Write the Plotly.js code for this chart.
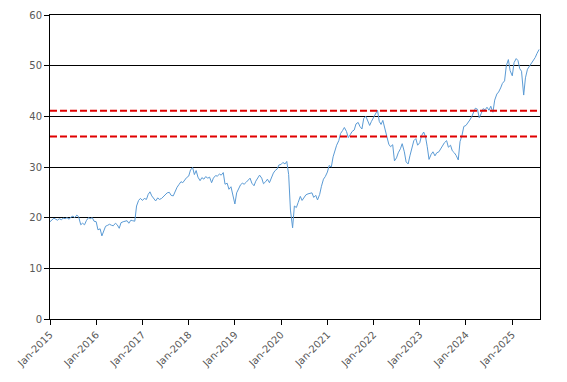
<!DOCTYPE html>
<html>
<head>
<meta charset="utf-8">
<script src="https://cdn.plot.ly/plotly-3.0.1.min.js"></script>
<style>html,body{margin:0;padding:0;background:#fff;}#chart{width:567px;height:382px;}</style>
</head>
<body>
<div id="chart"></div>
<script>
// Semi-monthly readings (1st and 15th of each month)
const years = [2015, 2016, 2017, 2018, 2019, 2020, 2021, 2022, 2023, 2024, 2025];
const v2015 = [19.2, 19.6, 19.9, 19.7, 19.5, 19.8, 19.6, 19.9, 19.8, 20.0, 19.7, 20.1, 20.3, 20.0, 20.5, 20.2, 18.6, 18.9, 18.6, 19.4, 20.0, 19.8, 20.0, 19.3];
const v2016 = [19.2, 17.6, 17.8, 16.4, 17.6, 18.3, 18.5, 18.7, 18.5, 18.4, 18.9, 18.6, 17.9, 19.0, 19.2, 19.3, 19.4, 18.9, 19.5, 19.4, 19.3, 22.3, 23.4, 23.8];
const v2017 = [23.4, 23.8, 23.6, 24.6, 25.1, 24.3, 23.7, 23.3, 23.9, 23.6, 23.8, 24.1, 24.6, 24.9, 25.0, 24.4, 24.3, 25.2, 26.0, 26.5, 27.1, 26.9, 27.5, 27.9];
const v2018 = [28.2, 29.4, 29.9, 28.5, 29.3, 28.0, 27.3, 27.9, 27.6, 28.1, 27.8, 28.0, 26.9, 27.8, 28.3, 28.2, 28.6, 28.4, 28.9, 26.6, 26.8, 25.6, 26.1, 24.2];
const v2019 = [22.7, 24.9, 25.8, 26.5, 26.8, 26.6, 27.0, 27.4, 27.8, 26.8, 26.3, 27.2, 27.9, 28.4, 27.8, 26.7, 27.1, 27.6, 26.9, 27.8, 28.8, 29.3, 29.6, 30.4];
const v2020 = [30.5, 30.9, 30.6, 31.1, 28.5, 21.5, 18.0, 22.3, 22.0, 23.0, 24.2, 23.4, 24.0, 24.5, 24.7, 24.8, 24.9, 24.0, 24.4, 23.5, 24.6, 26.2, 27.6, 28.1];
const v2021 = [29.0, 30.3, 30.0, 32.0, 33.2, 34.3, 35.2, 36.6, 37.2, 37.8, 37.0, 35.8, 36.4, 37.0, 37.3, 38.5, 38.8, 38.0, 37.5, 39.6, 40.0, 39.3, 38.2, 39.0];
const v2022 = [39.8, 40.6, 41.2, 39.0, 38.4, 39.2, 37.6, 36.0, 34.5, 34.0, 34.4, 31.2, 31.8, 32.8, 33.6, 34.6, 33.0, 31.0, 30.6, 32.2, 34.0, 35.2, 35.6, 34.3];
const v2023 = [34.8, 36.2, 36.9, 36.0, 34.0, 31.5, 32.5, 33.0, 32.2, 32.8, 33.0, 33.6, 34.0, 34.8, 35.2, 33.9, 34.3, 33.2, 32.8, 32.3, 31.4, 35.0, 36.3, 38.0];
const v2024 = [38.2, 38.6, 39.3, 39.9, 41.0, 41.6, 41.4, 39.7, 40.6, 41.5, 41.3, 41.8, 41.2, 42.0, 40.8, 43.2, 44.4, 44.8, 45.6, 46.5, 47.0, 50.0, 51.2, 49.0];
const v2025 = [48.0, 50.6, 51.4, 51.0, 49.4, 48.9, 44.2, 47.6, 49.3, 49.8, 50.3, 50.9, 51.6, 52.4, 53.2];
const yearValues = [v2015, v2016, v2017, v2018, v2019, v2020, v2021, v2022, v2023, v2024, v2025];

const thresholds = [41.1, 36.0];
const xRange = ['2015-01-01', '2025-08-08'];
const tickDates = ['2015-01-01','2016-01-01','2017-01-01','2018-01-01','2019-01-01','2020-01-01','2021-01-01','2022-01-01','2023-01-01','2024-01-01','2025-01-01'];
const tickLabels = ['Jan-2015','Jan-2016','Jan-2017','Jan-2018','Jan-2019','Jan-2020','Jan-2021','Jan-2022','Jan-2023','Jan-2024','Jan-2025'];
const yTicks = [0, 10, 20, 30, 40, 50, 60];

const xs = [], ys = [];
years.forEach((yr, k) => {
  yearValues[k].forEach((v, i) => {
    const m = Math.floor(i / 2) + 1;
    const d = (i % 2) ? 15 : 1;
    xs.push(yr + '-' + String(m).padStart(2, '0') + '-' + String(d).padStart(2, '0'));
    ys.push(v);
  });
});

const traces = [{
  x: xs, y: ys, type: 'scatter', mode: 'lines',
  line: {color: '#5b9bd5', width: 1}, hoverinfo: 'skip'
}];
thresholds.forEach(t => {
  traces.push({
    x: xRange, y: [t, t], type: 'scatter', mode: 'lines',
    line: {color: '#e00000', width: 2, dash: '7px,3px'}, hoverinfo: 'skip'
  });
});

const layout = {
  width: 567, height: 382,
  margin: {l: 50, r: 27, t: 15, b: 63, pad: 0},
  paper_bgcolor: '#ffffff', plot_bgcolor: '#ffffff',
  showlegend: false,
  font: {family: 'DejaVu Sans, Verdana, sans-serif', size: 10, color: '#595959'},
  xaxis: {
    type: 'date', range: xRange,
    tickmode: 'array', tickvals: tickDates, ticktext: tickLabels, tickangle: -45,
    showgrid: false, zeroline: false,
    showline: true, linecolor: '#000000', linewidth: 1, mirror: true,
    ticks: 'outside', ticklen: 5, tickcolor: '#000000', tickwidth: 1
  },
  yaxis: {
    range: [0, 60], tickmode: 'array', tickvals: yTicks,
    showgrid: true, gridcolor: '#000000', gridwidth: 1, zeroline: false,
    showline: true, linecolor: '#000000', linewidth: 1, mirror: true,
    ticks: 'outside', ticklen: 5, tickcolor: '#000000', tickwidth: 1
  }
};

Plotly.newPlot('chart', traces, layout, {displayModeBar: false, staticPlot: true});
</script>
</body>
</html>
